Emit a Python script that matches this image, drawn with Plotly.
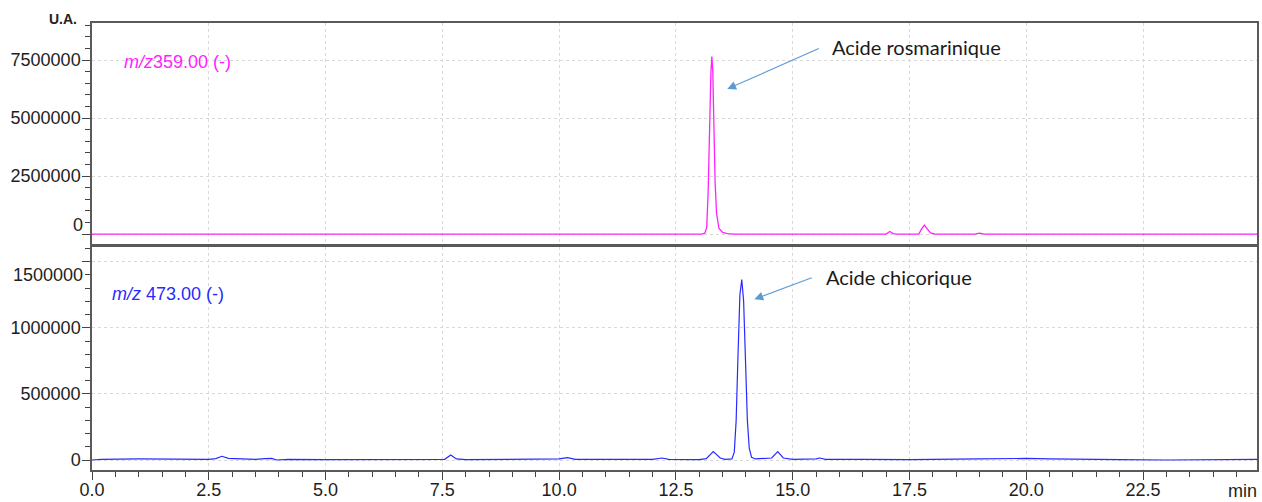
import plotly.graph_objects as go

# ---------------- data ----------------
# m/z 359.00 (-) chromatogram (top panel)
top_time = [0.0, 1.0, 2.0, 2.6, 2.75, 2.9, 5.0, 7.5, 9.2, 9.3, 9.4, 11.0, 12.5, 13.05,
            13.12, 13.16, 13.19, 13.22, 13.25, 13.27, 13.29, 13.31, 13.34, 13.37, 13.42,
            13.5, 13.6, 13.75, 15.0, 16.5, 17.0, 17.08, 17.15, 17.22, 17.7, 17.76, 17.82,
            17.88, 17.95, 18.05, 18.9, 19.0, 19.1, 20.0, 22.5, 24.94]
top_signal = [0, 0, 0, 0, 30000, 0, 0, 0, 0, 25000, 0, 0, 0, 0,
              40000, 300000, 1800000, 4800000, 7000000, 7650000, 7000000, 5000000, 2200000, 900000, 250000,
              70000, 15000, 0, 0, 0, 0, 110000, 20000, 0, 0, 220000, 390000,
              220000, 50000, 0, 0, 35000, 0, 0, 0, 0]

# m/z 473.00 (-) chromatogram (bottom panel)
bot_time = [0.0, 0.2, 1.0, 2.0, 2.5, 2.65, 2.78, 2.92, 3.2, 3.5, 3.7, 3.85, 3.95, 4.2,
            5.0, 6.0, 7.0, 7.55, 7.68, 7.8, 8.0, 9.0, 10.0, 10.18, 10.35, 11.0, 12.0,
            12.2, 12.35, 13.0, 13.15, 13.3, 13.45, 13.55, 13.7, 13.75, 13.79, 13.83, 13.87,
            13.91, 13.95, 13.99, 14.03, 14.07, 14.12, 14.2, 14.4, 14.55, 14.68, 14.8, 15.0,
            15.5, 15.58, 15.7, 16.5, 17.5, 19.0, 19.5, 20.0, 20.5, 21.0, 21.3, 22.0, 23.0,
            24.0, 24.94]
bot_signal = [0, 5000, 8000, 5000, 5000, 10000, 28000, 12000, 10000, 5000, 10000, 12000, 0, 5000,
              3000, 5000, 3000, 5000, 38000, 8000, 3000, 5000, 8000, 18000, 5000, 5000, 5000,
              15000, 5000, 3000, 10000, 63000, 15000, 5000, 8000, 60000, 300000, 800000, 1250000,
              1365000, 1200000, 750000, 300000, 90000, 20000, 8000, 10000, 15000, 63000, 15000, 5000,
              8000, 15000, 5000, 5000, 3000, 8000, 12000, 12000, 8000, 5000, 8000, 3000, 0,
              3000, 5000]

x_tick_vals = [0, 2.5, 5, 7.5, 10, 12.5, 15, 17.5, 20, 22.5]
x_tick_text = ["0.0", "2.5", "5.0", "7.5", "10.0", "12.5", "15.0", "17.5", "20.0", "22.5"]
top_tick_vals = [0, 2500000, 5000000, 7500000]
top_tick_text = ["", "2500000", "5000000", "7500000"]
bot_tick_vals = [0, 500000, 1000000, 1500000]
bot_tick_text = ["0", "500000", "1000000", ""]

# ---------------- figure ----------------
AX = "#5a5a5a"
GRID = "#d9d9d9"
TICKFONT = dict(family="Liberation Sans, Arial, sans-serif", size=18, color="#1e1e1e")
NOTEFONT = dict(family="Lato, Open Sans, sans-serif", size=20, color="#1a1a1a")

fig = go.Figure()
fig.add_trace(go.Scatter(x=top_time, y=top_signal, mode="lines", xaxis="x2", yaxis="y2",
                         line=dict(color="#ff22ff", width=1.3), showlegend=False))
fig.add_trace(go.Scatter(x=bot_time, y=bot_signal, mode="lines", xaxis="x", yaxis="y",
                         line=dict(color="#2a2aff", width=1.2), showlegend=False))

common_axis = dict(showline=True, linecolor=AX, linewidth=1.5, mirror=True, zeroline=False,
                   showgrid=True, gridcolor=GRID, griddash="dot", gridwidth=1, automargin=False)

fig.update_layout(
    width=1262, height=502,
    margin=dict(l=92, r=5, t=23, b=32, autoexpand=False),
    plot_bgcolor="white", paper_bgcolor="white",
    xaxis=dict(domain=[0, 1], anchor="y", range=[0, 24.94],
               tickmode="array", tickvals=x_tick_vals, ticktext=x_tick_text,
               ticks="outside", ticklen=8, tickwidth=1, tickcolor="#444444",
               ticklabelstandoff=-5,
               minor=dict(tickmode="linear", tick0=0, dtick=0.5, ticks="outside", ticklen=5,
                          tickcolor="#444444", showgrid=False),
               tickfont=TICKFONT, **common_axis),
    xaxis2=dict(domain=[0, 1], anchor="y2", matches="x", range=[0, 24.94],
                tickmode="array", tickvals=x_tick_vals, showticklabels=False, ticks="",
                **common_axis),
    yaxis=dict(domain=[0, 0.5], anchor="x", range=[-75600, 1615000],
               tickmode="array", tickvals=bot_tick_vals, ticktext=bot_tick_text,
               ticks="outside", ticklen=8, tickwidth=1, tickcolor="#444444",
               ticklabelstandoff=-2,
               minor=dict(tickmode="linear", tick0=0, dtick=100000, ticks="outside", ticklen=5,
                          tickcolor="#444444", showgrid=False),
               tickfont=TICKFONT, **common_axis),
    yaxis2=dict(domain=[0.5045, 1], anchor="x2", range=[-450000, 9095000],
                tickmode="array", tickvals=top_tick_vals, ticktext=top_tick_text,
                ticks="outside", ticklen=8, tickwidth=1, tickcolor="#444444",
                ticklabelstandoff=-2,
                minor=dict(tickmode="linear", tick0=0, dtick=500000, ticks="outside", ticklen=5,
                           tickcolor="#444444", showgrid=False),
               tickfont=TICKFONT, **common_axis),
)

annotations = [
    # shifted tick labels (as in the original software)
    dict(text="0", xref="paper", yref="y2", x=0, y=390000, xanchor="right", yanchor="middle",
         xshift=-7, showarrow=False, font=TICKFONT),
    dict(text="1500000", xref="paper", yref="y", x=0, y=1400000, xanchor="right", yanchor="middle",
         xshift=-7, showarrow=False, font=TICKFONT),
    # axis titles
    dict(text="<b>U.A.</b>", xref="paper", yref="paper", x=0, y=1, xanchor="right", yanchor="bottom",
         xshift=-13, yshift=-6, showarrow=False,
         font=dict(family="Liberation Sans, Arial, sans-serif", size=14, color="#222222")),
    dict(text="min", xref="paper", yref="paper", x=1, y=0, xanchor="right", yanchor="middle",
         xshift=2, yshift=-21, showarrow=False, font=TICKFONT),
    # trace labels
    dict(text="<i>m/z</i>359.00 (-)", xref="x2", yref="y2", x=0.64, y=7410000, xanchor="left",
         yanchor="middle", showarrow=False,
         font=dict(family="Liberation Sans, Arial, sans-serif", size=18, color="#ff22ff")),
    dict(text="<i>m/z</i> 473.00 (-)", xref="x", yref="y", x=0.385, y=1256000, xanchor="left",
         yanchor="middle", showarrow=False,
         font=dict(family="Liberation Sans, Arial, sans-serif", size=18, color="#2a2aff")),
    # compound labels
    dict(text="Acide rosmarinique", xref="x2", yref="y2", x=15.8, y=8060000, xanchor="left",
         yanchor="middle", showarrow=False, font=NOTEFONT),
    dict(text="Acide chicorique", xref="x", yref="y", x=15.67, y=1384000, xanchor="left",
         yanchor="middle", showarrow=False, font=NOTEFONT),
    # arrows
    dict(text="", xref="x2", yref="y2", x=13.6, y=6250000, axref="x2", ayref="y2",
         ax=15.59, ay=8020000, showarrow=True, arrowhead=2, arrowsize=1.6, arrowwidth=1.1,
         arrowcolor="#5b9bd5", standoff=0),
    dict(text="", xref="x", yref="y", x=14.18, y=1216000, axref="x", ayref="y",
         ax=15.44, ay=1382000, showarrow=True, arrowhead=2, arrowsize=1.6, arrowwidth=1.1,
         arrowcolor="#5b9bd5", standoff=0),
]
fig.update_layout(annotations=annotations)

fig.write_html("out.html", config={"displayModeBar": False},
               post_script="document.body.style.margin='0';document.body.style.overflow='hidden';")
